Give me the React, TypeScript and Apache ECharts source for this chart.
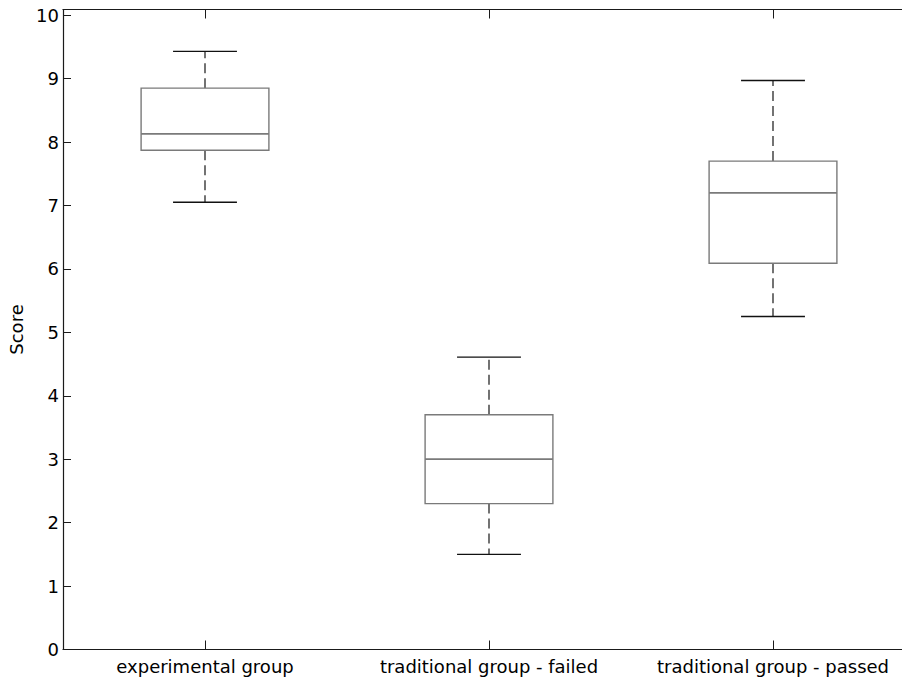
import React, { useEffect, useRef } from "react";
import * as echarts from "echarts";

const categories = ["experimental group", "traditional group - failed", "traditional group - passed"];
const lowerWhisker = [7.05, 1.5, 5.25];
const quartile1 = [7.87, 2.3, 6.09];
const median = [8.13, 3.0, 7.2];
const quartile3 = [8.85, 3.7, 7.7];
const upperWhisker = [9.43, 4.61, 8.97];
const yTicks = [0, 1, 2, 3, 4, 5, 6, 7, 8, 9, 10];

const FONT = "DejaVu Sans";

export default function App() {
  const ref = useRef<HTMLDivElement>(null);
  useEffect(() => {
    if (!ref.current) return;
    const chart = echarts.init(ref.current, null, { renderer: "svg" });
    const data = categories.map((_, i) => [
      i,
      lowerWhisker[i],
      quartile1[i],
      median[i],
      quartile3[i],
      upperWhisker[i],
    ]);
    const boxColor = "#7a7a7a";
    const axisColor = "#1a1a1a";
    const option: any = {
      animation: false,
      backgroundColor: "#ffffff",
      grid: {
        left: 63,
        top: 9.5,
        width: 852,
        bottom: 30.5,
        containLabel: false,
        outerBoundsMode: "none",
      },
      xAxis: [
        {
          type: "category",
          data: categories,
          position: "bottom",
          boundaryGap: true,
          axisLine: { show: true, onZero: false, lineStyle: { color: axisColor, width: 1.2 } },
          axisTick: { show: true, inside: true, length: 9, alignWithLabel: true, lineStyle: { color: axisColor } },
          axisLabel: {
            show: true,
            interval: 0,
            hideOverlap: false,
            color: "#000",
            fontFamily: FONT,
            fontSize: 18,
            margin: 8,
          },
          splitLine: { show: false },
        },
        {
          type: "category",
          data: categories,
          position: "top",
          boundaryGap: true,
          axisLine: { show: true, onZero: false, lineStyle: { color: axisColor, width: 1.2 } },
          axisTick: { show: true, inside: true, length: 9, alignWithLabel: true, lineStyle: { color: axisColor } },
          axisLabel: { show: false },
          splitLine: { show: false },
        },
      ],
      yAxis: [
        {
          type: "value",
          min: 0,
          max: 10.09,
          position: "left",
          name: "Score",
          nameLocation: "middle",
          nameGap: 35,
          nameTextStyle: { color: "#000", fontFamily: FONT, fontSize: 18 },
          axisLine: { show: true, onZero: false, lineStyle: { color: axisColor, width: 1.2 } },
          axisTick: { show: true, inside: true, length: 8, customValues: yTicks, lineStyle: { color: axisColor } },
          axisLabel: {
            show: true,
            customValues: yTicks,
            color: "#000",
            fontFamily: FONT,
            fontSize: 18,
            margin: 4,
          },
          splitLine: { show: false },
        },
      ],
      series: [
        {
          type: "custom",
          xAxisIndex: 0,
          yAxisIndex: 0,
          data,
          renderItem: (params: any, api: any) => {
            const idx = api.value(0);
            const lo = api.coord([idx, api.value(1)]);
            const q1p = api.coord([idx, api.value(2)]);
            const md = api.coord([idx, api.value(3)]);
            const q3p = api.coord([idx, api.value(4)]);
            const hi = api.coord([idx, api.value(5)]);
            const band = api.size([1, 0])[0];
            const cx = lo[0];
            const bw = band * 0.45;
            const cw = band * 0.225;
            const dash = { stroke: "#000", lineWidth: 1.1, lineDash: [10, 5], fill: null };
            const solid = { stroke: "#111", lineWidth: 1.4, fill: null };
            return {
              type: "group",
              children: [
                { type: "line", shape: { x1: cx, y1: q3p[1], x2: cx, y2: hi[1] }, style: dash },
                { type: "line", shape: { x1: cx, y1: q1p[1], x2: cx, y2: lo[1] }, style: dash },
                { type: "line", shape: { x1: cx - cw / 2, y1: hi[1], x2: cx + cw / 2, y2: hi[1] }, style: solid },
                { type: "line", shape: { x1: cx - cw / 2, y1: lo[1], x2: cx + cw / 2, y2: lo[1] }, style: solid },
                {
                  type: "rect",
                  shape: { x: cx - bw / 2, y: q3p[1], width: bw, height: q1p[1] - q3p[1] },
                  style: { stroke: boxColor, lineWidth: 1.4, fill: "#ffffff" },
                },
                {
                  type: "line",
                  shape: { x1: cx - bw / 2, y1: md[1], x2: cx + bw / 2, y2: md[1] },
                  style: { stroke: boxColor, lineWidth: 1.8, fill: null },
                },
              ],
            };
          },
        },
      ],
    };
    chart.setOption(option);
    return () => chart.dispose();
  }, []);
  return (
    <div
      ref={ref}
      style={{ position: "absolute", left: 0, top: 0, width: 902, height: 680, background: "#fff" }}
    />
  );
}
